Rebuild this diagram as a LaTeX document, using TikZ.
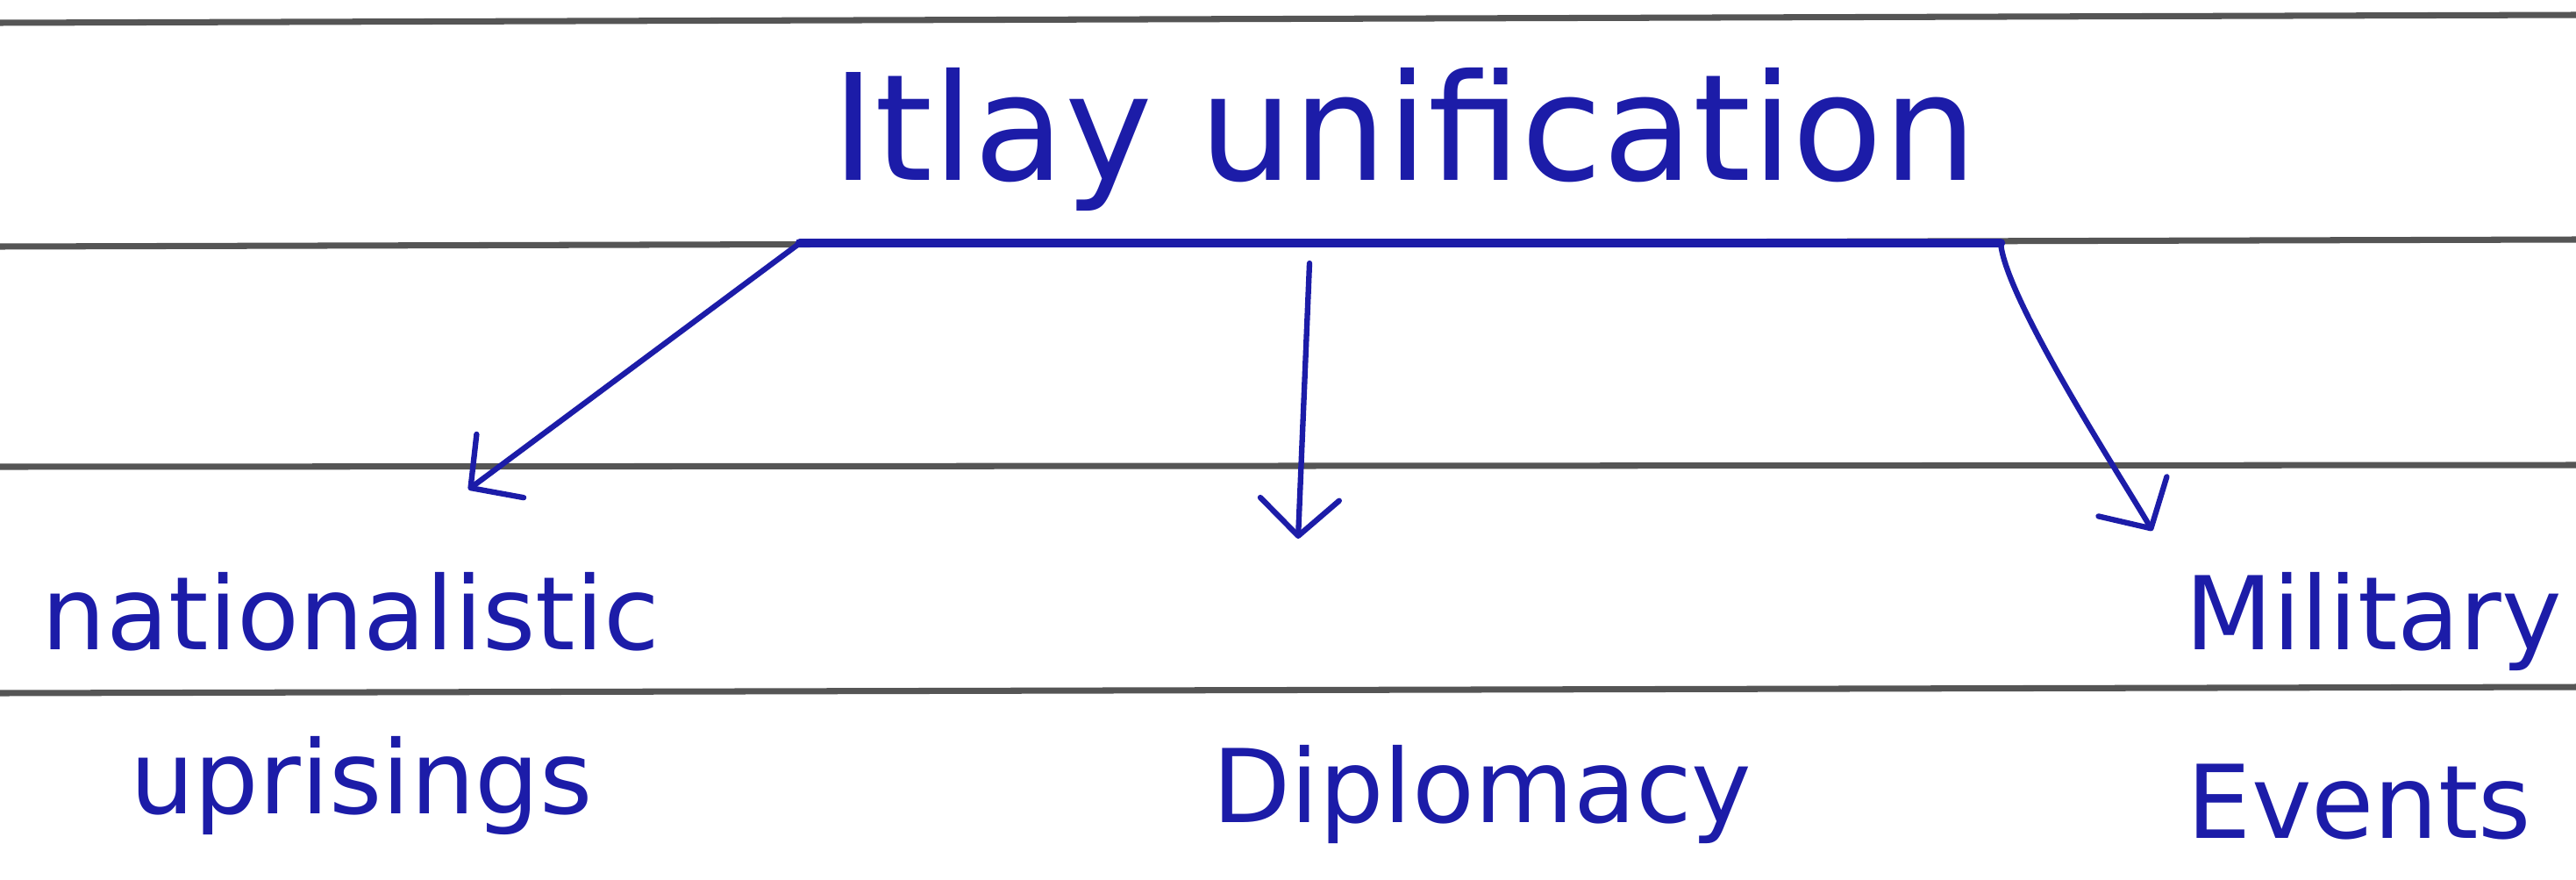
\documentclass[tikz,border=0pt]{standalone}
\usepackage{fontspec}
\setmainfont{DejaVu Sans}
\usepackage{xcolor}
\usepackage{tikz}
\usetikzlibrary{arrows.meta}

\definecolor{ink}{RGB}{28,28,168}
\definecolor{paperrule}{RGB}{85,85,85}

\begin{document}
\begin{tikzpicture}[>={Straight Barb[length=0.42cm,width=0.9cm,round]},
  inkline/.style={ink, line width=1.8pt, line cap=round},
  word/.style={ink, anchor=base, inner sep=0pt, font=\fontsize{33}{38}\selectfont}]

% Page size
\useasboundingbox (0,0) rectangle (29.37,-10.02);

% Ruled lines of the notebook page
\draw[paperrule, line width=2pt] (0,-0.26) -- (29.37,-0.17);
\draw[paperrule, line width=2pt] (0,-2.81) -- (29.37,-2.73);
\draw[paperrule, line width=2pt] (0,-5.32) -- (29.37,-5.30);
\draw[paperrule, line width=2pt] (0,-7.90) -- (29.37,-7.83);

% Title
\node[ink, anchor=base, inner sep=0pt, font=\fontsize{48}{56}\selectfont] (title) at (16.01,-2.06) {Itlay unification};

% Bar under the title
\coordinate (barL) at (9.12,-2.77);
\coordinate (barM) at (14.93,-3.0);
\coordinate (barR) at (22.81,-2.77);
\draw[inkline, line width=3pt] (barL) -- (barR);

% Branch labels
\node[word] (nat) at (4.00,-7.40) {nationalistic};
\node[word] (upr) at (4.12,-9.27) {uprisings};
\node[word] (dip) at (16.90,-9.37) {Diplomacy};
\node[word] (mil) at (27.06,-7.40) {Military};
\node[word] (evt) at (26.90,-9.55) {Events};

% Arrows
\coordinate (natTip) at (5.34,-5.58);
\coordinate (dipTip) at (14.80,-6.14);
\coordinate (milTip) at (24.54,-6.05);
\draw[inkline, ->] (barL) -- (natTip);
\draw[inkline, ->] (barM) -- (dipTip);
\draw[inkline, ->] (barR) to[out=-85, in=120, looseness=0.45] (milTip);

\end{tikzpicture}
\end{document}
